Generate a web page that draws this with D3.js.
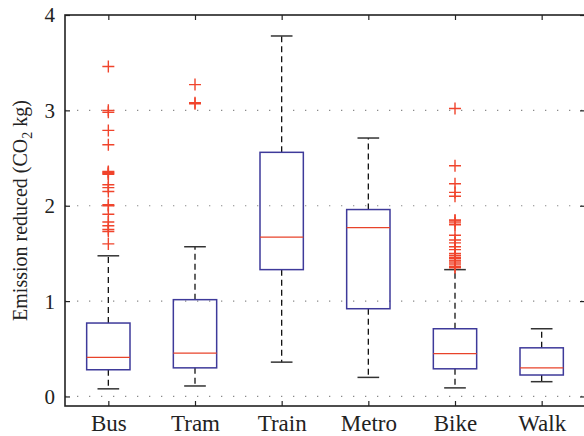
<!DOCTYPE html>
<html>
<head>
<meta charset="utf-8">
<script src="https://cdn.jsdelivr.net/npm/d3@7"></script>
<style>
  html, body { margin: 0; padding: 0; background: #fff; }
  svg { display: block; }
  text { font-family: "Liberation Serif", "DejaVu Serif", serif; fill: #222; }
</style>
</head>
<body>
<svg id="chart" width="584" height="436"></svg>
<script>
const categories = ["Bus", "Tram", "Train", "Metro", "Bike", "Walk"];
const lowerWhisker = [0.08, 0.11, 0.36, 0.20, 0.09, 0.155];
const q1 = [0.28, 0.30, 1.33, 0.92, 0.29, 0.225];
const medians = [0.41, 0.455, 1.67, 1.77, 0.45, 0.30];
const q3 = [0.77, 1.015, 2.56, 1.96, 0.71, 0.51];
const upperWhisker = [1.475, 1.57, 3.78, 2.71, 1.33, 0.71];
const outliersBus = [3.46, 3.0, 2.98, 2.79, 2.64, 2.36, 2.35, 2.34, 2.33, 2.22, 2.19, 2.15, 2.01, 2.0, 1.91, 1.83, 1.79, 1.75, 1.73, 1.60];
const outliersTram = [3.27, 3.08, 3.07];
const outliersTrain = [];
const outliersMetro = [];
const outliersBike = [3.02, 2.42, 2.23, 2.14, 2.10, 1.85, 1.84, 1.82, 1.80, 1.69, 1.64, 1.61, 1.57, 1.54, 1.50, 1.48, 1.46, 1.45, 1.43, 1.42, 1.40, 1.38, 1.36, 1.35];
const outliersWalk = [];
const yTicks = [0, 1, 2, 3, 4];
const yLabel = "Emission reduced (CO";

const outliers = [outliersBus, outliersTram, outliersTrain, outliersMetro, outliersBike, outliersWalk];

const mL = 65, mR = 585, mT = 15, mB = 406;
const svg = d3.select("#chart");

const x = d3.scaleLinear().domain([0.5, categories.length + 0.5]).range([mL, mR]);
const y = d3.scaleLinear().domain([-0.1, 4]).range([mB, mT]);
const idx = categories.map((c, i) => i + 1);

// grid
svg.append("g").selectAll("line").data(yTicks.filter(t => t < 4)).join("line")
  .attr("x1", mL).attr("x2", mR)
  .attr("y1", d => y(d)).attr("y2", d => y(d))
  .attr("stroke", "#8a8a8a").attr("stroke-width", 1.2)
  .attr("stroke-dasharray", "1.3,10.7");

// axes
const axL = svg.append("g").attr("transform", `translate(${mL},0)`)
  .call(d3.axisLeft(y).tickValues(yTicks).tickFormat(d3.format("d")).tickSizeInner(-5).tickSizeOuter(0).tickPadding(10));
const axR = svg.append("g").attr("transform", `translate(${mR},0)`)
  .call(d3.axisRight(y).tickValues(yTicks).tickFormat("").tickSizeInner(-5).tickSizeOuter(0));
const axB = svg.append("g").attr("transform", `translate(0,${mB})`)
  .call(d3.axisBottom(x).tickValues(idx).tickFormat(d => categories[d - 1]).tickSizeInner(-5).tickSizeOuter(0));
const axT = svg.append("g").attr("transform", `translate(0,${mT})`)
  .call(d3.axisTop(x).tickValues(idx).tickFormat("").tickSizeInner(-5).tickSizeOuter(0));
[axL, axR, axB, axT].forEach(a => {
  a.select(".domain").remove();
  a.selectAll(".tick line").attr("stroke", "#222").attr("stroke-width", 1.2);
  a.selectAll("text").attr("fill", "#222")
    .style("font-family", '"Liberation Serif", "DejaVu Serif", serif');
});
axB.selectAll("text").style("font-size", "23px").attr("y", 25).attr("dy", 0);
axL.selectAll("text").style("font-size", "21px").attr("dy", "0.33em");

// frame
svg.append("rect").attr("x", mL).attr("y", mT).attr("width", mR - mL).attr("height", mB - mT)
  .attr("fill", "none").attr("stroke", "#222").attr("stroke-width", 1.6);

// boxes
const bw = x(1.25) - x(1);      // half box width (box width 0.5)
const cw = x(1.125) - x(1);     // half cap width
const g = svg.append("g");
categories.forEach((c, i) => {
  const cx = x(i + 1);
  g.append("line").attr("x1", cx).attr("x2", cx).attr("y1", y(q3[i])).attr("y2", y(upperWhisker[i]))
    .attr("stroke", "#111").attr("stroke-width", 1.3).attr("stroke-dasharray", "6,4");
  g.append("line").attr("x1", cx).attr("x2", cx).attr("y1", y(q1[i])).attr("y2", y(lowerWhisker[i]))
    .attr("stroke", "#111").attr("stroke-width", 1.3).attr("stroke-dasharray", "6,4");
  [upperWhisker[i], lowerWhisker[i]].forEach(v => {
    g.append("line").attr("x1", cx - cw).attr("x2", cx + cw).attr("y1", y(v)).attr("y2", y(v))
      .attr("stroke", "#333").attr("stroke-width", 1.5);
  });
  g.append("rect").attr("x", cx - bw).attr("width", 2 * bw)
    .attr("y", y(q3[i])).attr("height", y(q1[i]) - y(q3[i]))
    .attr("fill", "none").attr("stroke", "#3e3a9a").attr("stroke-width", 1.5);
  g.append("line").attr("x1", cx - bw).attr("x2", cx + bw).attr("y1", y(medians[i])).attr("y2", y(medians[i]))
    .attr("stroke", "#e8432a").attr("stroke-width", 1.3);
  outliers[i].forEach(v => {
    const py = y(v);
    g.append("path").attr("d", `M${cx - 6},${py}H${cx + 6}M${cx},${py - 6}V${py + 6}`)
      .attr("stroke", "#f0442c").attr("stroke-width", 1.4).attr("fill", "none");
  });
});

// y label
const yl = svg.append("text")
  .attr("transform", `translate(27,${(mT + mB) / 2}) rotate(-90)`)
  .attr("text-anchor", "middle").style("font-size", "20px");
yl.append("tspan").text(yLabel);
yl.append("tspan").text("2").style("font-size", "14px").attr("dy", "5");
yl.append("tspan").text(" kg)").attr("dy", "-5");
</script>
</body>
</html>
